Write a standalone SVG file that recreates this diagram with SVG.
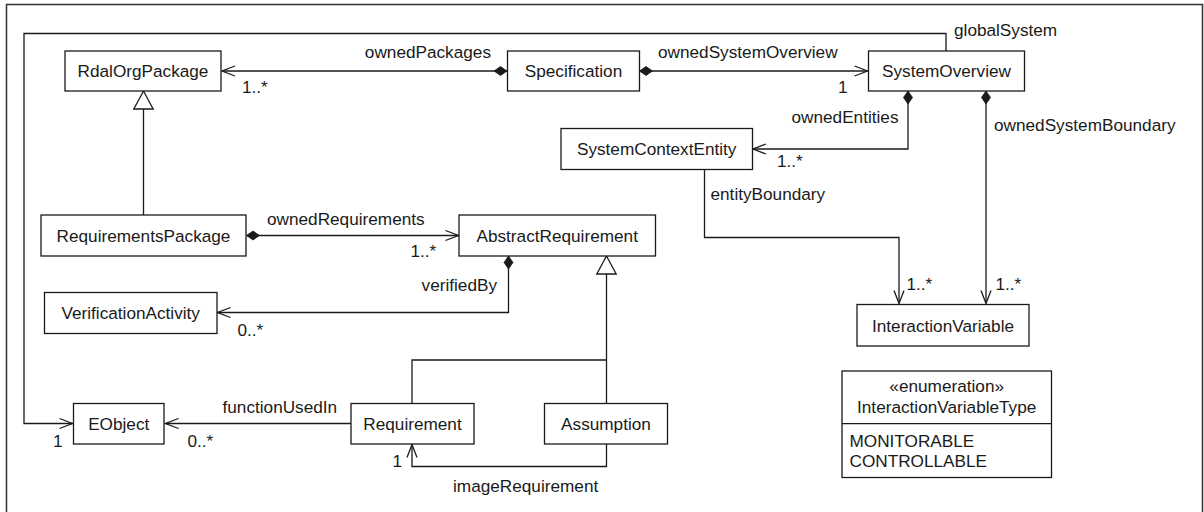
<svg xmlns="http://www.w3.org/2000/svg" width="1204" height="512" viewBox="0 0 1204 512">
  <style>
    text { font-family: "Liberation Sans", Arial, Helvetica, sans-serif; font-size: 17.2px; fill: #1a1a1a; }
    .mid { text-anchor: middle; }
    .end { text-anchor: end; }
    .box { fill: #ffffff; stroke: #1a1a1a; stroke-width: 1.3; }
    .edge { fill: none; stroke: #1a1a1a; stroke-width: 1.3; }
    .frame { fill: none; stroke: #333333; stroke-width: 1.5; }
  </style>
  <defs>
    <!-- navigable end: open arrowhead -->
    <marker id="open" markerUnits="userSpaceOnUse" markerWidth="16" markerHeight="14" viewBox="0 -7 16 14" refX="14" refY="0" orient="auto" overflow="visible">
      <path d="M1,-5 L14,0 L1,5" fill="none" stroke="#1a1a1a" stroke-width="1.3"/>
    </marker>
    <!-- composite end: filled diamond -->
    <marker id="diamond" markerUnits="userSpaceOnUse" markerWidth="14" markerHeight="10" viewBox="0 -5 14 10" refX="0" refY="0" orient="auto" overflow="visible">
      <path d="M0,0 L6.5,-4.5 L13,0 L6.5,4.5 Z" fill="#1a1a1a" stroke="#1a1a1a" stroke-width="0.8"/>
    </marker>
    <!-- generalization: hollow triangle -->
    <marker id="gen" markerUnits="userSpaceOnUse" markerWidth="20" markerHeight="22" viewBox="0 -11 20 22" refX="18" refY="0" orient="auto" overflow="visible">
      <path d="M0,-9.7 L18,0 L0,9.7 Z" fill="#ffffff" stroke="#1a1a1a" stroke-width="1.3"/>
    </marker>
  </defs>

  <rect x="0" y="0" width="1204" height="512" fill="#ffffff"/>
  <path class="frame" d="M6.5,520 V4.5 H1202.5 V520"/>

  <g id="connectors">
    <path class="edge" d="M507,71 H222" marker-start="url(#diamond)" marker-end="url(#open)"/>
    <path class="edge" d="M639.5,71 H867.5" marker-start="url(#diamond)" marker-end="url(#open)"/>
    <path class="edge" d="M946,51 V33.5 H24 V423.5 H72.5" marker-end="url(#open)"/>
    <path class="edge" d="M908,91 V149 H753" marker-start="url(#diamond)" marker-end="url(#open)"/>
    <path class="edge" d="M986,91 V303.5" marker-start="url(#diamond)" marker-end="url(#open)"/>
    <path class="edge" d="M704.5,169.5 V237.5 H899 V303.5" marker-end="url(#open)"/>
    <path class="edge" d="M143.5,215 V91" marker-end="url(#gen)"/>
    <path class="edge" d="M246.5,235.5 H458.5" marker-start="url(#diamond)" marker-end="url(#open)"/>
    <path class="edge" d="M508.5,256 V312.5 H217.5" marker-start="url(#diamond)" marker-end="url(#open)"/>
    <path class="edge" d="M606.5,403.5 V256" marker-end="url(#gen)"/>
    <path class="edge" d="M412,403.5 V360 H606.5"/>
    <path class="edge" d="M351,423.5 H165.5" marker-end="url(#open)"/>
    <path class="edge" d="M606.5,444 V466.5 H412 V444.5" marker-end="url(#open)"/>

    <text class="end" x="491" y="57.5">ownedPackages</text>
    <text x="242" y="93">1..*</text>
    <text x="658" y="57.5">ownedSystemOverview</text>
    <text x="838" y="93">1</text>
    <text x="954" y="36">globalSystem</text>
    <text class="end" x="898.5" y="122.5">ownedEntities</text>
    <text x="777" y="166.5">1..*</text>
    <text x="994" y="131">ownedSystemBoundary</text>
    <text x="710.5" y="200">entityBoundary</text>
    <text x="906.5" y="290">1..*</text>
    <text x="995.5" y="290">1..*</text>
    <text x="267" y="225">ownedRequirements</text>
    <text x="410.5" y="257">1..*</text>
    <text class="end" x="497" y="290.5">verifiedBy</text>
    <text x="237.5" y="336">0..*</text>
    <text x="53" y="446.5">1</text>
    <text x="187.5" y="446.5">0..*</text>
    <text x="222.5" y="413">functionUsedIn</text>
    <text x="392.5" y="466.5">1</text>
    <text x="453" y="491.5">imageRequirement</text>
  </g>

  <g id="RdalOrgPackage">
    <rect class="box" x="65" y="51" width="156" height="40"/>
    <text class="mid" x="143" y="77.3">RdalOrgPackage</text>
  </g>
  <g id="Specification">
    <rect class="box" x="507.5" y="51" width="132" height="40"/>
    <text class="mid" x="573.5" y="77.3">Specification</text>
  </g>
  <g id="SystemOverview">
    <rect class="box" x="868.5" y="51" width="156" height="40"/>
    <text class="mid" x="946.5" y="77.3">SystemOverview</text>
  </g>
  <g id="SystemContextEntity">
    <rect class="box" x="561" y="128.5" width="191.5" height="41"/>
    <text class="mid" x="656.7" y="155.3">SystemContextEntity</text>
  </g>
  <g id="RequirementsPackage">
    <rect class="box" x="41" y="215" width="205" height="41"/>
    <text class="mid" x="143.5" y="241.8">RequirementsPackage</text>
  </g>
  <g id="AbstractRequirement">
    <rect class="box" x="459" y="215" width="196.5" height="41"/>
    <text class="mid" x="557.2" y="241.8">AbstractRequirement</text>
  </g>
  <g id="VerificationActivity">
    <rect class="box" x="44.5" y="292.5" width="172.5" height="41"/>
    <text class="mid" x="130.7" y="319.3">VerificationActivity</text>
  </g>
  <g id="InteractionVariable">
    <rect class="box" x="857" y="304.5" width="172" height="41.5"/>
    <text class="mid" x="943" y="331.5">InteractionVariable</text>
  </g>
  <g id="EObject">
    <rect class="box" x="73.5" y="403.5" width="90.5" height="40.5"/>
    <text class="mid" x="118.7" y="430">EObject</text>
  </g>
  <g id="Requirement">
    <rect class="box" x="351" y="403.5" width="123" height="40.5"/>
    <text class="mid" x="412.5" y="430">Requirement</text>
  </g>
  <g id="Assumption">
    <rect class="box" x="544.5" y="403.5" width="123" height="40.5"/>
    <text class="mid" x="606" y="430">Assumption</text>
  </g>
  <g id="InteractionVariableType">
    <rect class="box" x="842" y="371" width="209.5" height="106.5"/>
    <line class="edge" x1="842" y1="423.7" x2="1051.5" y2="423.7"/>
    <text class="mid" x="946.7" y="391.5">«enumeration»</text>
    <text class="mid" x="946.7" y="412.5">InteractionVariableType</text>
    <text x="849.5" y="446.5">MONITORABLE</text>
    <text x="849.5" y="467.3">CONTROLLABLE</text>
  </g>
</svg>
